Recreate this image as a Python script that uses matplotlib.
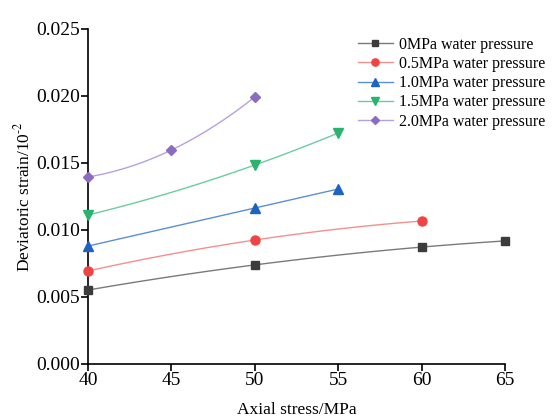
import numpy as np
import matplotlib.pyplot as plt

plt.rcParams['font.family'] = ['Liberation Serif', 'DejaVu Serif']
plt.rcParams['mathtext.fontset'] = 'stix'

# data
x0 = [40, 50, 60, 65]
y0 = [0.00552, 0.00739, 0.00873, 0.00918]
x05 = [40, 50, 60]
y05 = [0.00694, 0.00925, 0.01067]
x10 = [40, 50, 55]
y10 = [0.0088, 0.01164, 0.01306]
x15 = [40, 50, 55]
y15 = [0.01112, 0.01485, 0.01724]
x20 = [40, 45, 50]
y20 = [0.01396, 0.01597, 0.01993]

labels = ['0MPa water pressure', '0.5MPa water pressure', '1.0MPa water pressure',
          '1.5MPa water pressure', '2.0MPa water pressure']
markers = ['s', 'o', '^', 'v', 'D']
mcolors = ['#3c3c3c', '#f04444', '#1f63c0', '#28b46e', '#8c6cc0']
lcolors = ['#7a7a7a', '#f29090', '#5b8fd8', '#6cccA0', '#b8a0dc']
msizes = [6, 6.5, 7, 7, 5.5]

fig = plt.figure(figsize=(5.55, 4.19), dpi=100)
ax = fig.add_axes([0.1586, 0.1313, 0.7514, 0.7995])

series = [(x0, y0), (x05, y05), (x10, y10), (x15, y15), (x20, y20)]
for (xs, ys), lab, m, mc, lc, ms in zip(series, labels, markers, mcolors, lcolors, msizes):
    # smooth fit line like the original
    p = np.polyfit(xs, ys, 2)
    xf = np.linspace(min(xs), max(xs), 100)
    ax.plot(xf, np.polyval(p, xf), '-', color=lc, lw=1.0, zorder=2)
    ax.plot(xs, ys, m, color=mc, ms=ms, lw=0, zorder=3, clip_on=False)
    ax.plot([], [], '-', marker=m, color=lc, mfc=mc, mec=mc, ms=ms * 0.8, lw=1.0, label=lab)

ax.set_xlim(40, 65)
ax.set_ylim(0, 0.025)
ax.set_xticks([40, 45, 50, 55, 60, 65])
ax.set_yticks([0, 0.005, 0.01, 0.015, 0.02, 0.025])
ax.set_yticklabels(['0.000', '0.005', '0.010', '0.015', '0.020', '0.025'])
ax.spines['top'].set_visible(False)
ax.spines['right'].set_visible(False)
for s in ['left', 'bottom']:
    ax.spines[s].set_linewidth(1.2)
ax.tick_params(direction='out', length=5, width=1.2, labelsize=14, pad=1)
ax.set_xlabel('Axial stress/MPa', fontsize=12.5, labelpad=9)
ax.set_ylabel('Deviatoric strain/10$^{\\text{-}2}$', fontsize=12.5, labelpad=2)

ax.legend(loc='upper right', bbox_to_anchor=(1.0, 0.935), bbox_transform=fig.transFigure,
          frameon=False, fontsize=11.5, handlelength=2.2, handletextpad=0.4,
          labelspacing=0.2, borderaxespad=0.2)

fig.savefig('out.png', dpi=100)
